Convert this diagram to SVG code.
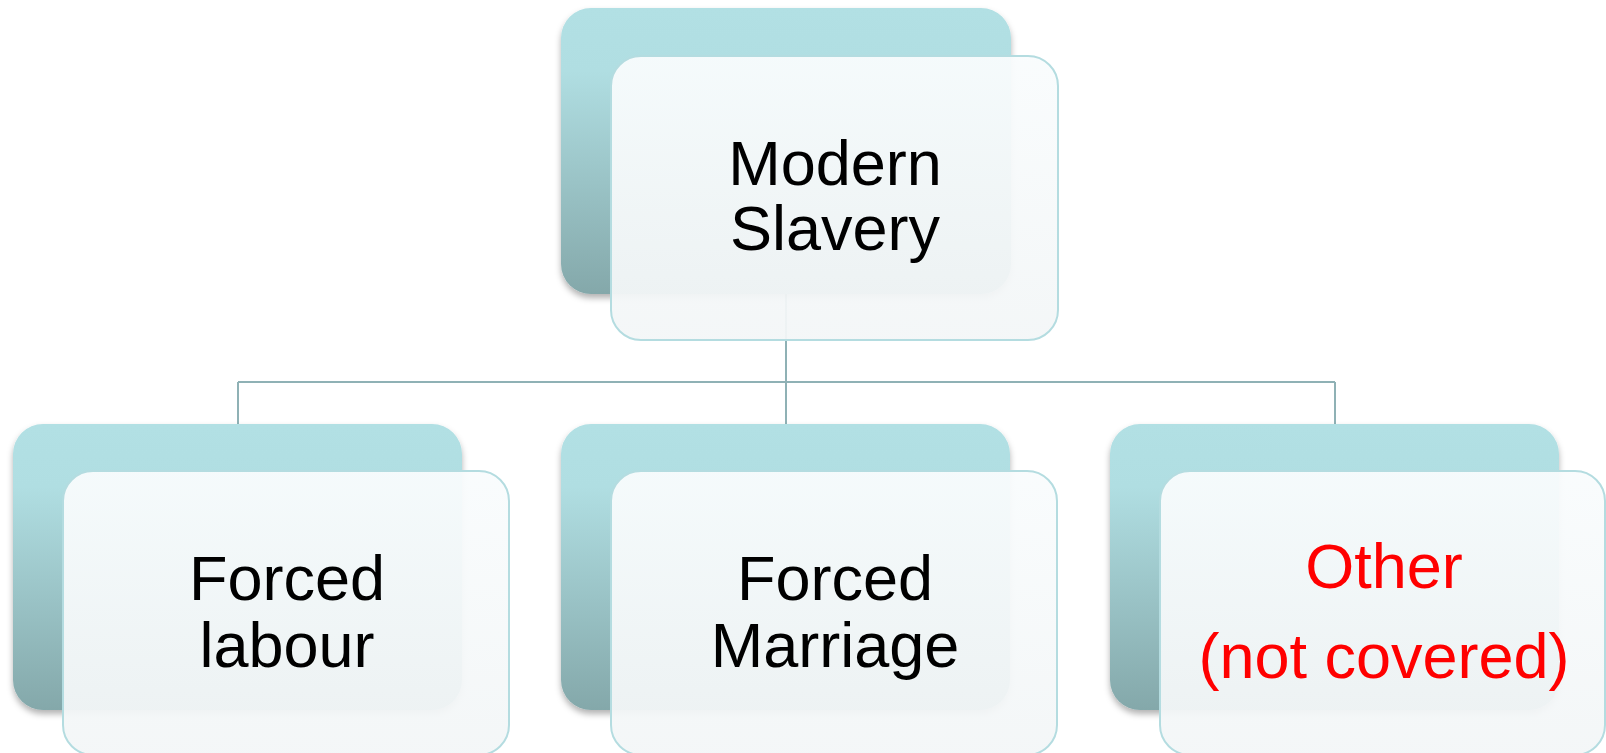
<svg xmlns="http://www.w3.org/2000/svg" width="1606" height="753" viewBox="0 0 1606 753">
<style>
.back{fill:url(#gBack);filter:url(#shadow)}
.front{fill:url(#gFront);fill-opacity:0.94;stroke:#b4dce0;stroke-width:2}
.lbl{font-family:"Liberation Sans",Arial,sans-serif;font-size:63px;text-anchor:middle;fill:#000000}
.red{fill:#ff0000}
.conn{fill:none;stroke:#8fb1b5;stroke-width:2}
</style>
<defs>
<linearGradient id="gBack" x1="0" y1="0" x2="0" y2="1">
<stop offset="0" stop-color="#b2e0e4"/>
<stop offset="0.22" stop-color="#b0dee2"/>
<stop offset="1" stop-color="#84a8aa"/>
</linearGradient>
<linearGradient id="gFront" x1="0" y1="0" x2="0" y2="1">
<stop offset="0" stop-color="#f9fcfd"/>
<stop offset="1" stop-color="#f3f6f7"/>
</linearGradient>
<filter id="shadow" x="-5%" y="-5%" width="110%" height="115%">
<feDropShadow dx="0" dy="4" stdDeviation="3" flood-color="#000000" flood-opacity="0.3"/>
</filter>
</defs>
<rect width="1606" height="753" fill="#ffffff"/>
<g id="connectors">
<path class="conn" d="M786 294 V382 M238 382 H1335 M238 382 V424 M786 382 V424 M1335 382 V424"/>
</g>
<g id="node-modern-slavery">
<rect class="back" x="561" y="8" width="450" height="286" rx="30"/>
<rect class="front" x="611" y="56" width="447" height="284" rx="30"/>
<text class="lbl" x="835" y="185">Modern</text>
<text class="lbl" x="835" y="250">Slavery</text>
</g>
<g id="node-forced-labour">
<rect class="back" x="13" y="424" width="449" height="286" rx="30"/>
<rect class="front" x="63" y="471" width="446" height="284" rx="30"/>
<text class="lbl" x="287" y="600">Forced</text>
<text class="lbl" x="287" y="667">labour</text>
</g>
<g id="node-forced-marriage">
<rect class="back" x="561" y="424" width="449" height="286" rx="30"/>
<rect class="front" x="611" y="471" width="446" height="284" rx="30"/>
<text class="lbl" x="835" y="600">Forced</text>
<text class="lbl" x="835" y="667">Marriage</text>
</g>
<g id="node-other">
<rect class="back" x="1110" y="424" width="449" height="286" rx="30"/>
<rect class="front" x="1160" y="471" width="445" height="284" rx="30"/>
<text class="lbl red" x="1384" y="588">Other</text>
<text class="lbl red" x="1384" y="678">(not covered)</text>
</g>
</svg>
